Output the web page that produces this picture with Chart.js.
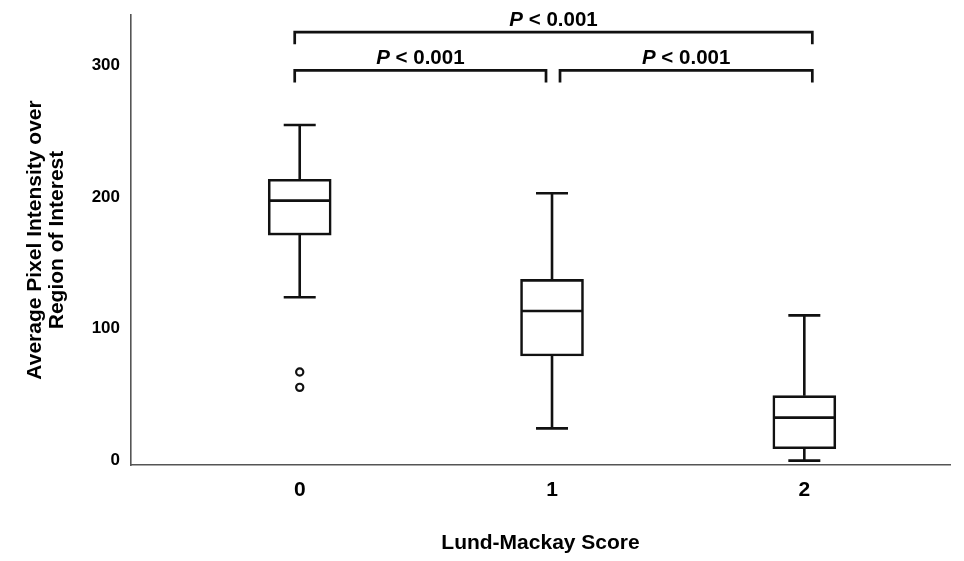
<!DOCTYPE html>
<html>
<head>
<meta charset="utf-8">
<title>Lund-Mackay Score box plot</title>
<script src="https://cdn.jsdelivr.net/npm/chart.js@4.4.1/dist/chart.umd.min.js"></script>
<style>
    body { margin: 0; background: #ffffff; }
    #wrap { width: 964px; height: 561px; position: relative; }
</style>
</head>
<body>
<div id="wrap"><canvas id="boxChart"></canvas></div>
<script>
// DATA
const categories = ['0', '1', '2'];
const whiskerLow = [123.9, 24.5, 0];
const quartile1 = [171.1, 79.4, 9.1];
const medians = [197.2, 113.5, 32.6];
const quartile3 = [213.4, 137.5, 49.3];
const whiskerHigh = [254.6, 202.8, 110.2];
const outlierGroups = [0, 0];
const outlierValues = [67.2, 55.6];
const yTicks = [0, 100, 200, 300];

// significance brackets: [from group, to group]
const comparisons = [[0, 2], [0, 1], [1, 2]];
const pLabels = ['< 0.001', '< 0.001', '< 0.001'];
const bracketLevels = [325, 296, 296];

const FONT = "'Liberation Sans', Arial, Helvetica, sans-serif";
Chart.defaults.font.family = FONT;
Chart.defaults.color = '#000';

// whiskers, caps, medians and the P brackets
const boxExtras = {
    id: 'boxExtras',
    afterDatasetsDraw(chart) {
        const ctx = chart.ctx;
        const xs = chart.scales.x;
        const ys = chart.scales.y;
        ctx.save();
        ctx.strokeStyle = '#111';
        ctx.lineWidth = 2.6;
        ctx.lineCap = 'butt';
        categories.forEach((c, i) => {
            const cx = xs.getPixelForValue(i);
            const yMin = ys.getPixelForValue(whiskerLow[i]);
            const yMax = ys.getPixelForValue(whiskerHigh[i]);
            const yQ1 = ys.getPixelForValue(quartile1[i]);
            const yQ3 = ys.getPixelForValue(quartile3[i]);
            const yMed = ys.getPixelForValue(medians[i]);
            ctx.beginPath();
            ctx.moveTo(cx, yQ3);
            ctx.lineTo(cx, yMax);
            ctx.moveTo(cx - 16, yMax);
            ctx.lineTo(cx + 16, yMax);
            ctx.moveTo(cx, yQ1);
            ctx.lineTo(cx, yMin);
            ctx.moveTo(cx - 16, yMin);
            ctx.lineTo(cx + 16, yMin);
            ctx.moveTo(cx - 30, yMed);
            ctx.lineTo(cx + 30, yMed);
            ctx.stroke();
        });
        ctx.restore();
    },
    afterDraw(chart) {
        const ctx = chart.ctx;
        const xs = chart.scales.x;
        const ys = chart.scales.y;
        const last = categories.length - 1;
        ctx.save();
        ctx.strokeStyle = '#111';
        ctx.fillStyle = '#000';
        ctx.lineWidth = 2.7;
        ctx.lineJoin = 'miter';
        comparisons.forEach((pair, k) => {
            const x1 = xs.getPixelForValue(pair[0]) + (pair[0] > 0 ? 8 : -5);
            const x2 = xs.getPixelForValue(pair[1]) + (pair[1] < last ? -6 : 8);
            const yl = ys.getPixelForValue(bracketLevels[k]);
            ctx.beginPath();
            ctx.moveTo(x1, yl + 12);
            ctx.lineTo(x1, yl);
            ctx.lineTo(x2, yl);
            ctx.lineTo(x2, yl + 12);
            ctx.stroke();

            const fontP = 'italic bold 20.5px ' + FONT;
            const fontRest = 'bold 20.5px ' + FONT;
            const rest = ' ' + pLabels[k];
            ctx.font = fontP;
            const wP = ctx.measureText('P').width;
            ctx.font = fontRest;
            const wRest = ctx.measureText(rest).width;
            const start = (x1 + x2) / 2 - (wP + wRest) / 2;
            ctx.textBaseline = 'alphabetic';
            ctx.textAlign = 'left';
            ctx.font = fontP;
            ctx.fillText('P', start, yl - 6.5);
            ctx.font = fontRest;
            ctx.fillText(rest, start + wP, yl - 6.5);
        });
        ctx.restore();
    }
};

const boxData = categories.map((c, i) => ({ x: i, y: [quartile1[i], quartile3[i]] }));
const outlierData = outlierValues.map((v, i) => ({ x: outlierGroups[i], y: v }));

const boxConfig = {
    type: 'bar',
    data: {
        datasets: [{
            type: 'bar',
            data: boxData,
            backgroundColor: '#ffffff',
            borderColor: '#111',
            borderWidth: 2.6,
            borderSkipped: false,
            barThickness: 63,
            order: 2
        }, {
            type: 'scatter',
            data: outlierData,
            pointStyle: 'circle',
            radius: 3.6,
            borderWidth: 2.2,
            borderColor: '#111',
            backgroundColor: '#ffffff',
            order: 1
        }]
    },
    options: {
        responsive: true,
        maintainAspectRatio: false,
        animation: false,
        layout: {
            padding: { top: 15, right: 14, left: 0, bottom: 0 }
        },
        scales: {
            x: {
                type: 'linear',
                offset: false,
                min: -0.6687,
                max: 2.5774,
                afterBuildTicks: (scale) => {
                    scale.ticks = categories.map((c, i) => ({ value: i }));
                },
                afterFit: (scale) => {
                    scale.height = 96;
                    scale.paddingLeft = 0;
                    scale.paddingRight = 0;
                },
                ticks: {
                    callback: (v) => categories[v],
                    font: { size: 21, weight: 'bold' },
                    color: '#000',
                    padding: 13,
                    maxRotation: 0
                },
                grid: { display: false, drawTicks: false },
                border: { display: true, color: '#555', width: 1.6 },
                title: {
                    display: true,
                    text: 'Lund-Mackay Score',
                    font: { size: 21, weight: 'bold', lineHeight: 1.05 },
                    color: '#000',
                    padding: { top: 0, bottom: 7 }
                }
            },
            y: {
                type: 'linear',
                min: -3.3,
                max: 338,
                afterBuildTicks: (scale) => {
                    scale.ticks = yTicks.map(v => ({ value: v }));
                },
                afterFit: (scale) => {
                    scale.width = 131;
                    scale.paddingTop = 0;
                    scale.paddingBottom = 0;
                },
                ticks: {
                    font: { size: 17, weight: 'bold' },
                    color: '#000',
                    padding: 11
                },
                grid: { display: false, drawTicks: false },
                border: { display: true, color: '#555', width: 1.6 },
                title: {
                    display: true,
                    text: ['Average Pixel Intensity over', 'Region of Interest'],
                    font: { size: 21, weight: 'bold', lineHeight: 1.05 },
                    color: '#000',
                    padding: { top: 24, bottom: 0 }
                }
            }
        },
        plugins: {
            legend: { display: false },
            tooltip: { enabled: false }
        }
    },
    plugins: [boxExtras]
};

let boxChart = new Chart(
    document.getElementById('boxChart'),
    boxConfig
);
</script>
</body>
</html>
